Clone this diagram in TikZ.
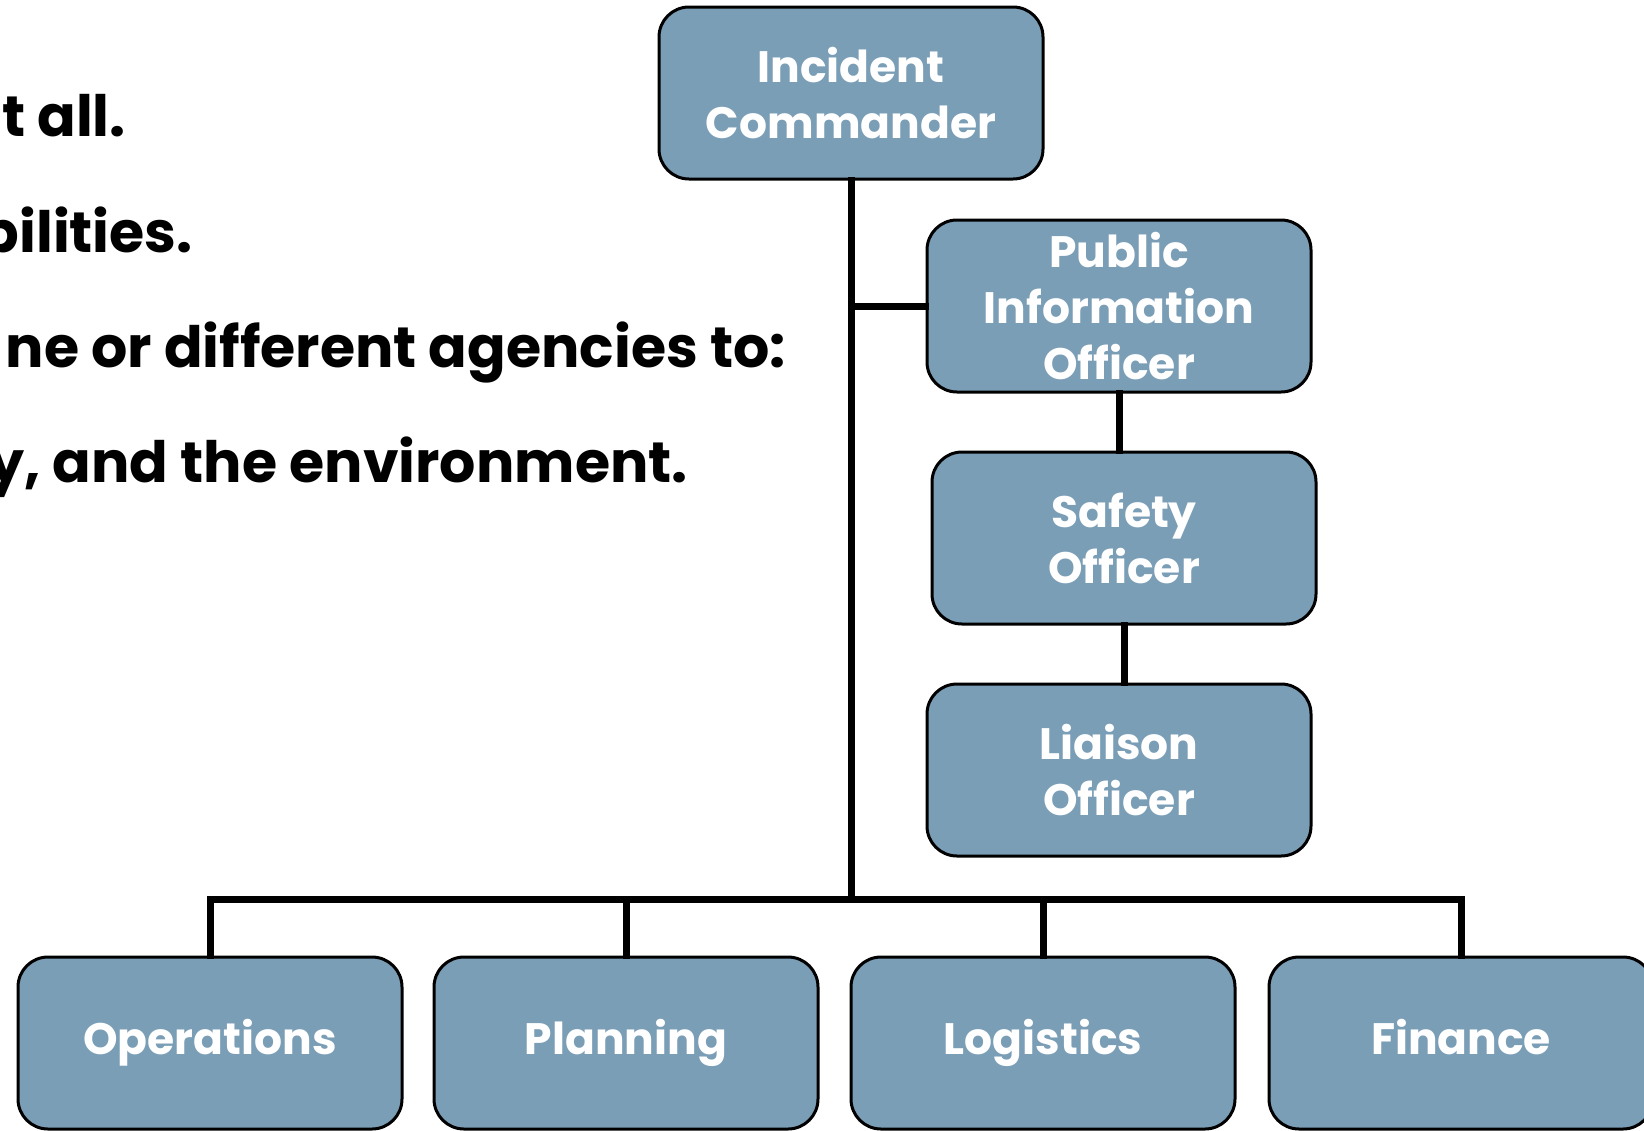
\documentclass[tikz,border=0pt]{standalone}
\usepackage{fontspec}
\setmainfont{Poppins}
\usetikzlibrary{positioning}
\definecolor{boxblue}{RGB}{123,158,183}

\begin{document}
\begin{tikzpicture}[x=1pt, y=-1pt,
	role/.style={draw=black, line width=3pt, fill=boxblue, rounded corners=30pt,
	minimum width=384pt, minimum height=172pt, align=center, text=white,
	font=\fontsize{44}{56}\selectfont\bfseries},
	section/.style={role, text height=32pt, text depth=10pt},
	wire/.style={line width=7pt, line cap=rect},
	slide/.style={anchor=base east, inner sep=0pt, font=\fontsize{57}{70}\selectfont\bfseries}]
\useasboundingbox (0,0) rectangle (1644,1130);
\clip (0,0) rectangle (1644,1130);
% text of the slide, cut at the left edge
\node[slide] (line1) at (126,136) {t all.};
\node[slide] (line2) at (193,252) {bilities.};
\node[slide] (line3) at (786,367) {ne or different agencies to:};
\node[slide] (line4) at (688,482) {y, and the environment.};
% command staff
\node[role] (ic) at (851,93) {Incident\\Commander};
\node[role] (pio) at (1119,306) {Public\\Information\\Officer};
\node[role] (safety) at (1124,538) {Safety\\Officer};
\node[role] (liaison) at (1119,770) {Liaison\\Officer};
% general staff
\node[section] (ops) at (210,1043) {Operations};
\node[section] (plan) at (626,1043) {Planning};
\node[section] (logi) at (1043,1043) {Logistics};
\node[section] (fin) at (1461,1043) {Finance};
\coordinate (hub) at (851,899);
\draw[wire] (ic.south) -- (hub);
\draw[wire] (ops.north |- hub) -- (fin.north |- hub);
\foreach \b in {ops,plan,logi,fin}
	\draw[wire] (\b.north |- hub) -- (\b.north);
\draw[wire] (pio.west) -- (pio.west -| hub);
\draw[wire] (pio.south) -- (pio.south |- safety.north);
\draw[wire] (safety.south) -- (safety.south |- liaison.north);
\end{tikzpicture}
\end{document}
